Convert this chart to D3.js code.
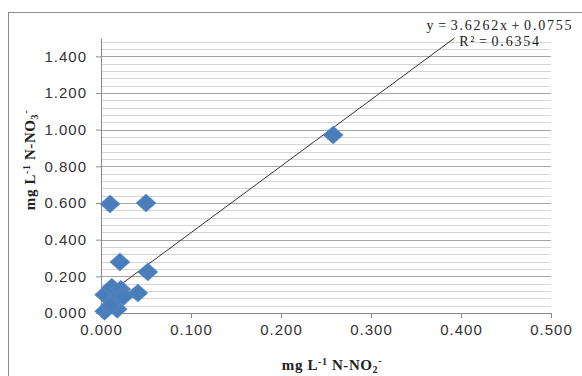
<!DOCTYPE html>
<html>
<head>
<meta charset="utf-8">
<script src="https://cdn.jsdelivr.net/npm/d3@7"></script>
<style>
  html, body { margin: 0; padding: 0; background: #fff; }
  #chart { width: 582px; height: 376px; }
</style>
</head>
<body>
<div id="chart"></div>
<script>
// N-NO2 (x) vs N-NO3 (y), mg/L
const no2Values = [0.258, 0.010, 0.050, 0.021, 0.052, 0.041, 0.004, 0.012, 0.022, 0.015, 0.004, 0.018, 0.010, 0.025];
const no3Values = [0.971, 0.595, 0.600, 0.278, 0.224, 0.109, 0.100, 0.140, 0.130, 0.070, 0.010, 0.020, 0.040, 0.090];
const xTicks = [0, 0.1, 0.2, 0.3, 0.4, 0.5];
const yTicks = [0, 0.2, 0.4, 0.6, 0.8, 1.0, 1.2, 1.4];
const trendSlope = 3.6262;
const trendIntercept = 0.0755;
const trendEndX = 0.40;
const equationText = "y = 3.6262x + 0.0755";
const r2Value = "0.6354";

const width = 582, height = 376;
const margin = { top: 38, right: 31, bottom: 63, left: 101 };
const innerW = width - margin.left - margin.right;
const innerH = height - margin.top - margin.bottom;

const svg = d3.select("#chart").append("svg")
  .attr("width", width)
  .attr("height", height);

// outer chart border
svg.append("rect")
  .attr("x", 8.5).attr("y", 12.5)
  .attr("width", 580).attr("height", 370)
  .attr("fill", "none")
  .attr("stroke", "#8c8c8c")
  .attr("stroke-width", 1);

const g = svg.append("g").attr("transform", `translate(${margin.left},${margin.top})`);

const x = d3.scaleLinear().domain([0, 0.5]).range([0, innerW]);
const y = d3.scaleLinear().domain([0, 1.5]).range([innerH, 0]);

// minor gridlines every 0.04
const minor = d3.range(0.04, 1.5, 0.04).filter(v => Math.abs(v / 0.2 - Math.round(v / 0.2)) > 1e-6);
g.append("g").selectAll("line").data(minor).join("line")
  .attr("x1", 0).attr("x2", innerW)
  .attr("y1", d => Math.round(y(d)) + 0.5).attr("y2", d => Math.round(y(d)) + 0.5)
  .attr("stroke", "#d4d4d4");

// major gridlines
g.append("g").selectAll("line").data(yTicks.slice(1)).join("line")
  .attr("x1", 0).attr("x2", innerW)
  .attr("y1", d => Math.round(y(d)) + 0.5).attr("y2", d => Math.round(y(d)) + 0.5)
  .attr("stroke", "#a6a6a6");

const styleAxis = (sel) => {
  sel.select(".domain").attr("stroke", "#8c8c8c");
  sel.selectAll(".tick line").attr("stroke", "#8c8c8c");
  sel.selectAll("text")
    .attr("fill", "#333")
    .attr("font-family", "Liberation Sans, Arial, sans-serif")
    .attr("font-size", 15)
    .attr("letter-spacing", 1);
};

g.append("g")
  .attr("transform", `translate(0,${innerH})`)
  .call(d3.axisBottom(x).tickValues(xTicks).tickFormat(d3.format(".3f")).tickSize(5).tickSizeOuter(5).tickPadding(6))
  .call(styleAxis);

g.append("g")
  .call(d3.axisLeft(y).tickValues(yTicks).tickFormat(d3.format(".3f")).tickSize(5).tickSizeOuter(0).tickPadding(9))
  .call(styleAxis);

// trendline
const x0 = d3.min(no2Values);
const xTop = Math.min(trendEndX, (1.5 - trendIntercept) / trendSlope);
g.append("line")
  .attr("x1", x(x0)).attr("y1", y(trendSlope * x0 + trendIntercept))
  .attr("x2", x(xTop)).attr("y2", y(trendSlope * xTop + trendIntercept))
  .attr("stroke", "#333")
  .attr("stroke-width", 1);

// diamond markers
const diamond = "M0,-9L10,0L0,9L-10,0Z";
g.append("g").selectAll("path").data(no2Values).join("path")
  .attr("d", diamond)
  .attr("transform", (d, i) => `translate(${x(d)},${y(no3Values[i])})`)
  .attr("fill", "#4a7ebb")
  .attr("stroke", "#5a8ac6")
  .attr("stroke-width", 0.6);

// regression labels
const eq = svg.append("g")
  .attr("font-family", "Liberation Serif, Times New Roman, serif")
  .attr("font-size", 14)
  .attr("fill", "#222")
  .attr("letter-spacing", 1.8)
  .attr("word-spacing", -2.5)
  .attr("text-anchor", "middle");
eq.append("text").attr("x", 500).attr("y", 30).text(equationText);
eq.append("text").attr("x", 500).attr("y", 46).text(`R² = ${r2Value}`);

// axis titles
const titleFont = (t) => t
  .attr("font-family", "Liberation Serif, Times New Roman, serif")
  .attr("font-size", 15)
  .attr("font-weight", "bold")
  .attr("letter-spacing", 0.6)
  .attr("fill", "#222");

function writeTitle(t, sub) {
  t.append("tspan").text("mg L");
  t.append("tspan").attr("dy", -5).attr("font-size", 10).text("-1");
  t.append("tspan").attr("dy", 5).text(" N-NO");
  t.append("tspan").attr("dy", 3).attr("font-size", 10).text(sub);
  t.append("tspan").attr("dy", -9).attr("font-size", 10).text("-");
}

const xt = svg.append("text")
  .attr("x", margin.left + innerW / 2 + 6)
  .attr("y", 370)
  .attr("text-anchor", "middle")
  .call(titleFont);
writeTitle(xt, "2");

const yt = svg.append("text")
  .attr("transform", "translate(35,160) rotate(-90)")
  .attr("text-anchor", "middle")
  .call(titleFont);
writeTitle(yt, "3");
</script>
</body>
</html>
